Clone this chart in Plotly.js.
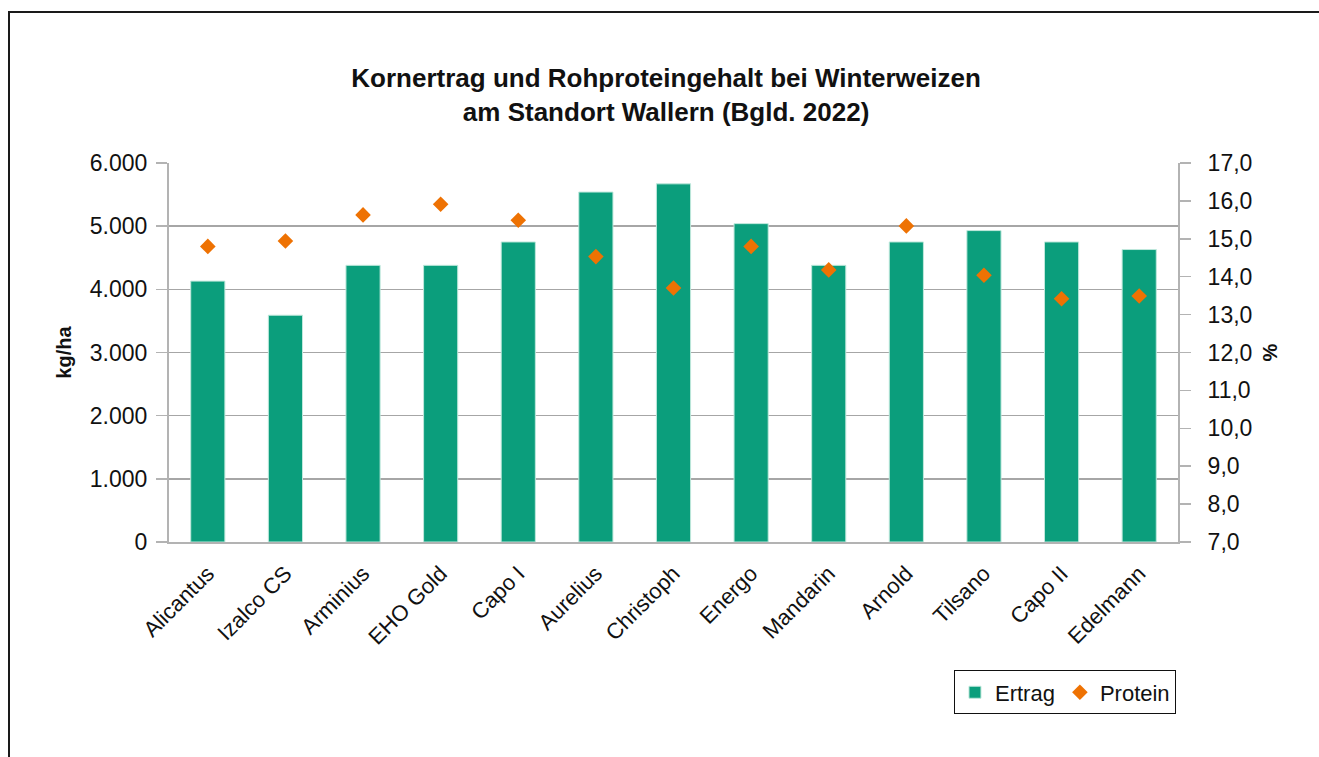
<!DOCTYPE html>
<html>
<head>
<meta charset="utf-8">
<script src="https://cdn.plot.ly/plotly-3.0.1.min.js"></script>
<style>
html, body { margin:0; padding:0; background:#fff; overflow:hidden; }
#frame { position:absolute; left:8px; top:11px; width:2000px; height:2000px; border:2px solid #1a1a1a; box-sizing:border-box; pointer-events:none; z-index:5; }
#chart { position:absolute; left:0; top:0; width:1319px; height:757px; }
</style>
</head>
<body>
<div id="chart"></div>
<div id="frame"></div>
<script>
const categories = ["Alicantus","Izalco CS","Arminius","EHO Gold","Capo I","Aurelius","Christoph","Energo","Mandarin","Arnold","Tilsano","Capo II","Edelmann"];
const ertrag = [4130, 3590, 4380, 4380, 4750, 5540, 5670, 5040, 4380, 4750, 4930, 4750, 4630];
const protein = [14.8, 14.94, 15.63, 15.91, 15.49, 14.53, 13.70, 14.80, 14.18, 15.34, 14.04, 13.42, 13.49];
const leftTicks = [0, 1000, 2000, 3000, 4000, 5000, 6000];
const leftTickText = ["0", "1.000", "2.000", "3.000", "4.000", "5.000", "6.000"];
const rightTicks = [7, 8, 9, 10, 11, 12, 13, 14, 15, 16, 17];
const rightTickText = ["7,0", "8,0", "9,0", "10,0", "11,0", "12,0", "13,0", "14,0", "15,0", "16,0", "17,0"];

const font = "Liberation Sans, Arial, Helvetica, sans-serif";

const traces = [
  {
    type: "bar", name: "Ertrag", x: categories, y: ertrag,
    marker: { color: "#0b9e7c", line: { color: "#bfe8dc", width: 1 } },
    yaxis: "y"
  },
  {
    type: "scatter", mode: "markers", name: "Protein", x: categories, y: protein,
    marker: { symbol: "diamond", color: "#ee7203", size: 12 },
    yaxis: "y2"
  }
];

const layout = {
  width: 1319, height: 757,
  margin: { l: 169, r: 141, t: 163, b: 215 },
  paper_bgcolor: "#fff", plot_bgcolor: "#fff",
  font: { family: font, size: 22, color: "#111" },
  title: {
    text: "<b>Kornertrag und Rohproteingehalt bei Winterweizen<br>am Standort Wallern (Bgld. 2022)</b>",
    font: { family: font, size: 26, color: "#111" },
    x: 0.505, xanchor: "center", y: 0.885, yanchor: "middle"
  },
  bargap: 0.56,
  showlegend: true,
  legend: {
    orientation: "h", x: 0.998, xanchor: "right", y: -0.397, yanchor: "middle",
    bordercolor: "#111", borderwidth: 1, font: { family: font, size: 22 },
    itemwidth: 30, tracegroupgap: 0
  },
  xaxis: {
    type: "category", range: [-0.5, categories.length - 0.5], tickangle: -45, showgrid: false,
    showline: true, linecolor: "#b3b3b3", linewidth: 2,
    ticks: "", tickfont: { family: font, size: 22 },
    ticklabelstandoff: 8
  },
  yaxis: {
    range: [0, 6000], tickvals: leftTicks, ticktext: leftTickText,
    showgrid: true, gridcolor: "#a6a6a6", gridwidth: 1.5,
    showline: true, linecolor: "#b3b3b3", linewidth: 2,
    ticks: "outside", ticklen: 11, tickcolor: "#b3b3b3", tickwidth: 1.5,
    tickfont: { family: font, size: 23 }, ticklabelstandoff: 4,
    zeroline: false,
    title: { text: "<b>kg/ha</b>", font: { family: font, size: 20 }, standoff: 13 }
  },
  yaxis2: {
    overlaying: "y", side: "right",
    range: [7, 17], tickvals: rightTicks, ticktext: rightTickText,
    showgrid: false,
    showline: true, linecolor: "#b3b3b3", linewidth: 2,
    ticks: "outside", ticklen: 11, tickcolor: "#b3b3b3", tickwidth: 1.5,
    tickfont: { family: font, size: 23 }, ticklabelstandoff: 12,
    zeroline: false,
    title: { text: "<b>%</b>", font: { family: font, size: 20 }, standoff: 12 }
  }
};

Plotly.newPlot("chart", traces, layout, { staticPlot: true, displayModeBar: false });
</script>
</body>
</html>
